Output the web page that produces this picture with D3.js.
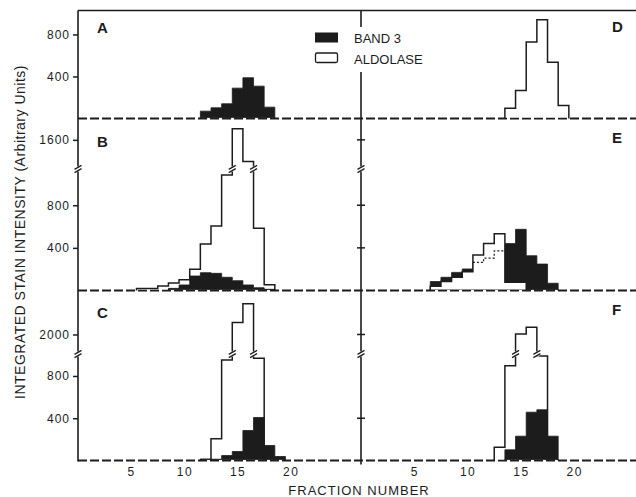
<!DOCTYPE html>
<html>
<head>
<meta charset="utf-8">
<script src="https://cdn.jsdelivr.net/npm/d3@7"></script>
<style>
body { margin: 0; background: #fff; }
svg text { font-family: "Liberation Sans", Arial, sans-serif; fill: #1c1c1c; }
</style>
</head>
<body>
<svg width="636" height="497"></svg>
<script>
// fraction number tick labels
var fractionTicks = [5, 10, 15, 20];

// A: band 3 only
var bandA_from = 12;
var bandA = [70, 102, 140, 289, 388, 308, 108];
// B
var aldB_from = 6;
var aldB = [18, 18, 42, 70, 100, 200, 437, 606, 1084, 1700, 1403, 585, 53];
var bandB_from = 9;
var bandB = [20, 52, 136, 167, 161, 124, 92, 52, 26, 11];
// C
var aldC_from = 13;
var aldC = [205, 951, 2114, 2293, 967];
var bandC_from = 12;
var bandC = [15, 12, 47, 85, 284, 407, 142, 38];
// D: aldolase only
var aldD_from = 14;
var aldD = [98, 267, 727, 940, 536, 124];
// E
var aldE_from = 7;
var aldE = [40, 84, 124, 175, 332, 440, 533, 77, 77];
var bandE_from = 7;
var bandE = [84, 124, 170, 202, 263, 304, 372, 440, 574, 326, 248, 68];
// F
var aldF_from = 13;
var aldF = [126, 896, 2005, 2068, 990];
var bandF_from = 14;
var bandF = [101, 230, 457, 480, 230];

// y tick values
var ticksA = [400, 800];
var ticksB = [400, 800, 1600];
var ticksC = [400, 800, 2000];
var ticksE = [400, 800, 1600];
var ticksF = [400, 2000];

var legendNames = ["BAND 3", "ALDOLASE"];

var svg = d3.select("svg");
var ink = "#1c1c1c";
var axisL = 78, axisM = 361, edgeR = 636;

// rows: top edge, baseline, (broken) domain, break position
var rows = [
  {y0: 10.5, base: 118.5, domain: [0, 1028], brk: null},
  {y0: 118.5, base: 290.5, domain: [0, 1140, 1335, 1794], brk: 169},
  {y0: 290.5, base: 460.5, domain: [0, 1008, 1814, 2419], brk: 354}
];
rows.forEach(function(r) {
  var range = r.brk ? [r.base, r.brk, r.brk, r.y0] : [r.base, r.y0];
  r.y = d3.scaleLinear().domain(r.domain).range(range);
});

var xs = [
  d3.scaleLinear().domain([0, 26.6]).range([axisL, axisM]),
  d3.scaleLinear().domain([0, 25.8]).range([axisM, edgeR])
];

var panels = [
  {col: 0, row: 0, name: "A", band: bandA, bandFrom: bandA_from},
  {col: 0, row: 1, name: "B", ald: aldB, aldFrom: aldB_from, band: bandB, bandFrom: bandB_from, blackTop: true},
  {col: 0, row: 2, name: "C", ald: aldC, aldFrom: aldC_from, band: bandC, bandFrom: bandC_from, blackTop: true},
  {col: 1, row: 0, name: "D", ald: aldD, aldFrom: aldD_from},
  {col: 1, row: 1, name: "E", ald: aldE, aldFrom: aldE_from, band: bandE, bandFrom: bandE_from, blackTop: false},
  {col: 1, row: 2, name: "F", ald: aldF, aldFrom: aldF_from, band: bandF, bandFrom: bandF_from, blackTop: true}
];

function steps(from, vals) {
  var pts = [[from - 0.5, 0]];
  vals.forEach(function(v, i) {
    pts.push([from + i - 0.5, v], [from + i + 0.5, v]);
  });
  pts.push([from + vals.length - 0.5, 0]);
  return pts;
}

function breakMark(g, cx, cy, w) {
  g.append("rect").attr("x", cx - w / 2).attr("y", cy - 2.5)
    .attr("width", w).attr("height", 5).attr("fill", "#fff");
  [-1.6, 1.6].forEach(function(o) {
    g.append("line")
      .attr("x1", cx - w / 2 - 1).attr("y1", cy + o + 2)
      .attr("x2", cx + w / 2 + 1).attr("y2", cy + o - 2)
      .attr("stroke", ink).attr("stroke-width", 1.3);
  });
}

// frame: top rule, baselines
svg.append("line").attr("x1", axisL).attr("x2", edgeR)
  .attr("y1", rows[0].y0).attr("y2", rows[0].y0)
  .attr("stroke", ink).attr("stroke-width", 1.6);

rows.forEach(function(r) {
  svg.append("line").attr("x1", axisL).attr("x2", edgeR)
    .attr("y1", r.base).attr("y2", r.base)
    .attr("stroke", ink).attr("stroke-width", 2)
    .attr("stroke-dasharray", "9,3");
});

panels.forEach(function(p) {
  var x = xs[p.col], r = rows[p.row], y = r.y;
  var g = svg.append("g");
  var area = d3.area().x(function(d) { return x(d[0]); })
    .y0(y(0) - 1).y1(function(d) { return y(d[1]); });
  var line = d3.line().x(function(d) { return x(d[0]); })
    .y(function(d) { return y(d[1]); });

  function drawBand() {
    g.append("path").attr("d", area(steps(p.bandFrom, p.band)))
      .attr("fill", ink).attr("stroke", ink).attr("stroke-width", 0.8);
  }
  function drawAld() {
    var pts = steps(p.aldFrom, p.ald);
    g.append("path").attr("d", area(pts)).attr("fill", "#fff");
    g.append("path").attr("d", line(pts)).attr("fill", "none")
      .attr("stroke", ink).attr("stroke-width", 1.5);
    if (r.brk) {
      var lo = r.domain[1], hi = r.domain[2];
      for (var i = 0; i <= p.ald.length; i++) {
        var a = i > 0 ? p.ald[i - 1] : 0, b = i < p.ald.length ? p.ald[i] : 0;
        if (Math.min(a, b) < lo && Math.max(a, b) > hi) {
          breakMark(g, x(p.aldFrom + i - 0.5), r.brk, 5);
        }
      }
    }
  }

  if (p.ald && p.band) {
    if (p.blackTop) { drawAld(); drawBand(); }
    else {
      drawBand(); drawAld();
      // band 3 hidden behind aldolase drawn dotted
      var hid = [];
      p.band.forEach(function(v, i) {
        var f = p.bandFrom + i;
        var av = p.ald[f - p.aldFrom] || 0;
        if (v < av) hid.push([f - 0.5, v], [f + 0.5, v]);
      });
      if (hid.length) {
        g.append("path").attr("d", line(hid)).attr("fill", "none")
          .attr("stroke", ink).attr("stroke-width", 1.2)
          .attr("stroke-dasharray", "2,2");
      }
    }
  } else if (p.band) {
    drawBand();
  } else {
    drawAld();
  }
});

// left axis
svg.append("line").attr("x1", axisL).attr("x2", axisL)
  .attr("y1", rows[0].y0).attr("y2", rows[2].base + 1)
  .attr("stroke", ink).attr("stroke-width", 1.6);
// middle axis, interrupted by the legend
svg.append("line").attr("x1", axisM).attr("x2", axisM)
  .attr("y1", rows[0].y0).attr("y2", 27)
  .attr("stroke", ink).attr("stroke-width", 1.6);
svg.append("line").attr("x1", axisM).attr("x2", axisM)
  .attr("y1", 72).attr("y2", rows[2].base + 4)
  .attr("stroke", ink).attr("stroke-width", 1.6);

var leftTicks = [ticksA, ticksB, ticksC];
rows.forEach(function(r, i) {
  var ax = svg.append("g").attr("transform", "translate(" + axisL + ",0)")
    .call(d3.axisLeft(r.y).tickValues(leftTicks[i]).tickSize(5)
      .tickPadding(3).tickFormat(d3.format("d")));
  ax.select(".domain").remove();
  ax.selectAll("line").attr("stroke", ink).attr("stroke-width", 1.5);
  ax.selectAll("text").style("font-size", "12px").style("letter-spacing", "1px")
    .attr("fill", ink);
  if (r.brk) breakMark(svg, axisL, r.brk, 5);
});

var rightTicks = [[], ticksE, ticksF];
rows.forEach(function(r, i) {
  svg.append("g").selectAll("line").data(rightTicks[i]).join("line")
    .attr("x1", axisM - 4).attr("x2", axisM + 4)
    .attr("y1", function(d) { return r.y(d); })
    .attr("y2", function(d) { return r.y(d); })
    .attr("stroke", ink).attr("stroke-width", 1.5);
  if (r.brk) breakMark(svg, axisM, r.brk, 5);
});

// fraction axes
xs.forEach(function(x) {
  var ax = svg.append("g").attr("transform", "translate(0," + rows[2].base + ")")
    .call(d3.axisBottom(x).tickValues(fractionTicks).tickSize(0).tickPadding(7));
  ax.select(".domain").remove();
  ax.selectAll("text").style("font-size", "12px").style("letter-spacing", "1.5px")
    .attr("fill", ink);
});

// panel letters
var letterPos = [[97, 33], [97, 147], [97, 318], [612, 32], [612, 143], [612, 315]];
panels.forEach(function(p, i) {
  svg.append("text").attr("x", letterPos[i][0]).attr("y", letterPos[i][1])
    .style("font-size", "15px").style("font-weight", "bold").text(p.name);
});

// legend
svg.append("rect").attr("x", 315).attr("y", 32.5).attr("width", 23).attr("height", 10)
  .attr("fill", ink);
svg.append("rect").attr("x", 315.5).attr("y", 53).attr("width", 22).attr("height", 9.5)
  .attr("rx", 1.5).attr("fill", "#fff").attr("stroke", ink).attr("stroke-width", 1.3);
svg.append("text").attr("x", 354).attr("y", 42.5).style("font-size", "13px").text(legendNames[0]);
svg.append("text").attr("x", 354).attr("y", 63.5).style("font-size", "13px").text(legendNames[1]);

// axis titles
svg.append("text").attr("transform", "translate(25,232) rotate(-90)")
  .attr("text-anchor", "middle").style("font-size", "14px").style("letter-spacing", "0.5px")
  .text("INTEGRATED STAIN INTENSITY (Arbitrary Units)");
svg.append("text").attr("x", 359).attr("y", 495)
  .attr("text-anchor", "middle").style("font-size", "13px").style("letter-spacing", "1px")
  .text("FRACTION NUMBER");
</script>
</body>
</html>
